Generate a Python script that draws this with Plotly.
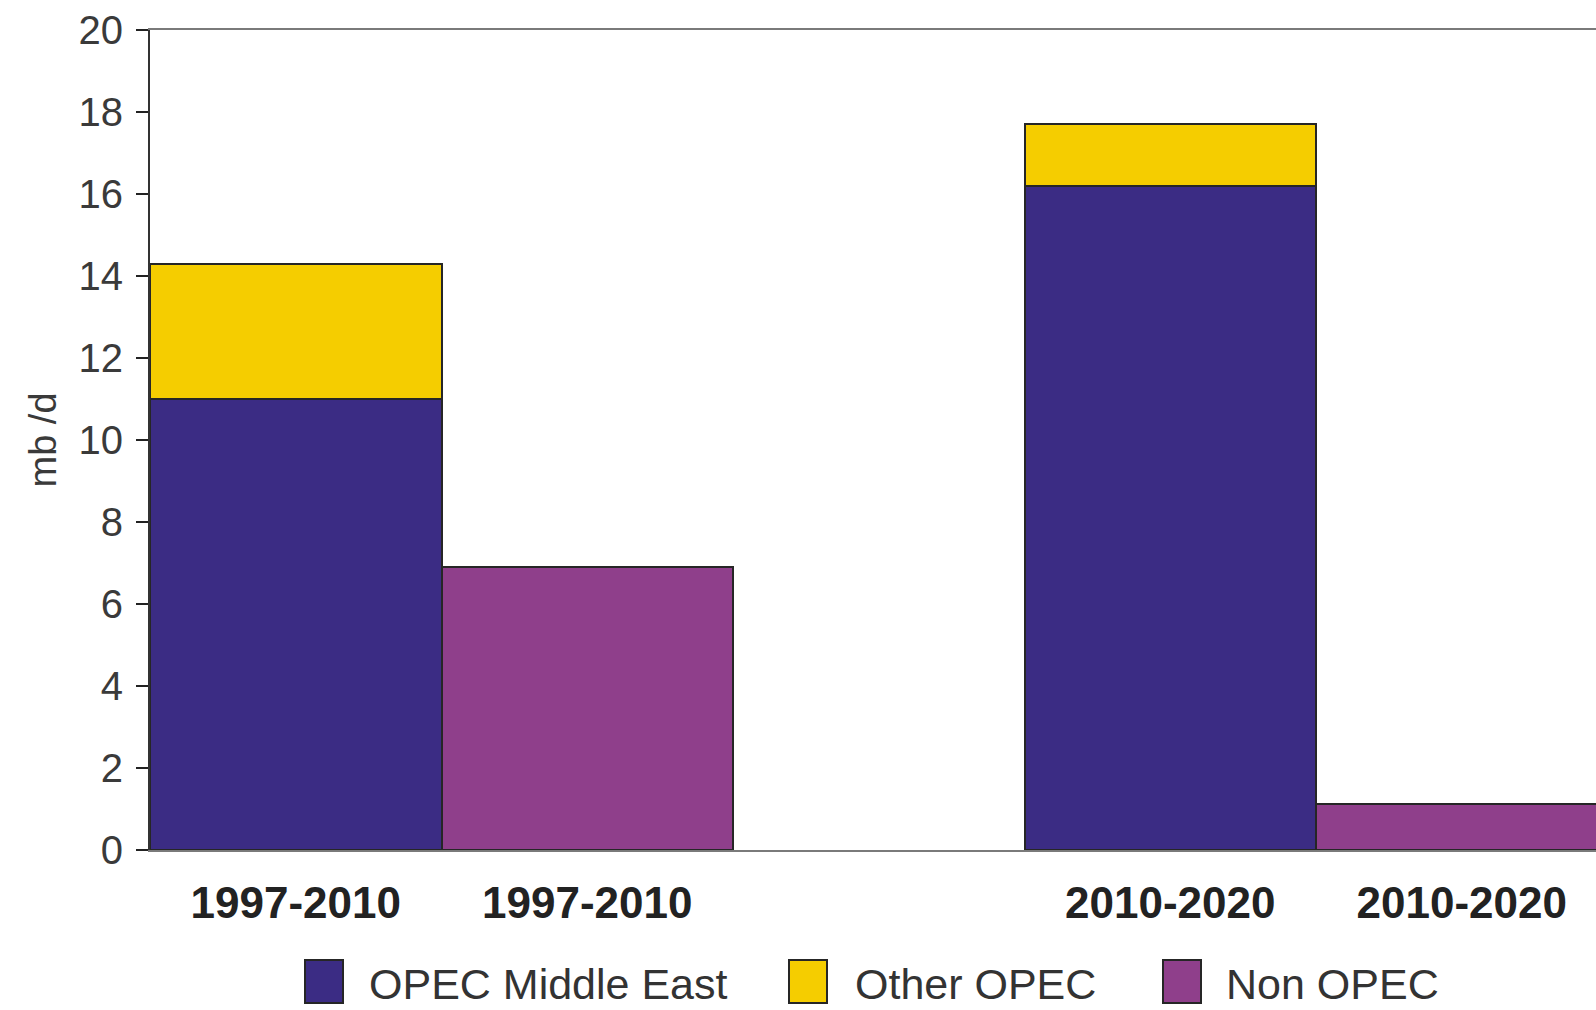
import plotly.graph_objects as go

# ---- data ----
periods = ["1997-2010", "2010-2020"]
series_names = ["OPEC Middle East", "Other OPEC", "Non OPEC"]
opec_middle_east = [11.0, 16.2]
other_opec = [3.3, 1.5]
non_opec = [6.9, 1.12]
y_ticks = [0, 2, 4, 6, 8, 10, 12, 14, 16, 18, 20]

# ---- styles ----
colors = ["#3B2C84", "#F5CD00", "#8F3F8B"]
edge = dict(color="#262626", width=2)
W, H = 1596, 1010
ML, MR, MT, MB = 150, 0, 30, 160

# slot layout: each period has an OPEC slot, a Non-OPEC slot, then an empty slot
opec_x = [3 * i for i in range(len(periods))]
non_x = [3 * i + 1 for i in range(len(periods))]

fig = go.Figure()
fig.add_trace(go.Bar(x=opec_x, y=opec_middle_east, name=series_names[0], width=1,
                     marker=dict(color=colors[0], line=edge)))
fig.add_trace(go.Bar(x=opec_x, y=other_opec, name=series_names[1], width=1,
                     marker=dict(color=colors[1], line=edge)))
fig.add_trace(go.Bar(x=non_x, y=non_opec, name=series_names[2], width=1,
                     marker=dict(color=colors[2], line=edge)))

plot_w = W - ML - MR
slot_px = 291.5
x_max = -0.5 + plot_w / slot_px

fig.update_layout(
    width=W, height=H,
    margin=dict(l=ML, r=MR, t=MT, b=MB, autoexpand=False),
    barmode="stack", bargap=0,
    plot_bgcolor="white", paper_bgcolor="white",
    showlegend=False,
    font=dict(family="Liberation Sans, Arial, sans-serif", color="#333333"),
)
fig.update_xaxes(
    range=[-0.5, x_max],
    tickvals=opec_x + non_x,
    ticktext=periods + periods,
    tickfont=dict(size=44, color="#222222", weight="bold",
                  family="Liberation Sans, Arial, sans-serif"),
    ticks="", showgrid=False, zeroline=False,
    showline=True, linecolor="#7a7a7a", linewidth=2, mirror=True,
    ticklabelstandoff=13,
)
fig.update_yaxes(
    range=[0, 20], tickvals=y_ticks,
    tickfont=dict(size=40, color="#3a3a3a"),
    ticks="outside", ticklen=12, tickwidth=2, tickcolor="#222222",
    showgrid=False, zeroline=False,
    showline=True, linecolor="#333333", linewidth=2,
    ticklabelstandoff=5,
    title=dict(text="mb /d", font=dict(size=38, color="#3a3a3a"), standoff=10),
)

# custom legend below the chart (large swatches like the original)
plot_h = H - MT - MB
def px_x(p):
    return (p - ML) / plot_w
def px_y(p):
    return (H - MB - p) / plot_h

swatch_left = [305, 789, 1163]
text_left = [367, 853, 1224]
for i, name in enumerate(series_names):
    fig.add_shape(type="rect", xref="paper", yref="paper",
                  x0=px_x(swatch_left[i]), x1=px_x(swatch_left[i] + 38),
                  y0=px_y(1003), y1=px_y(960),
                  fillcolor=colors[i], line=dict(color="#262626", width=2))
    fig.add_annotation(text=name, xref="paper", yref="paper",
                       x=px_x(text_left[i]), y=px_y(984),
                       xanchor="left", yanchor="middle", showarrow=False,
                       font=dict(size=43, color="#333333"))

fig.write_html("out.html")
